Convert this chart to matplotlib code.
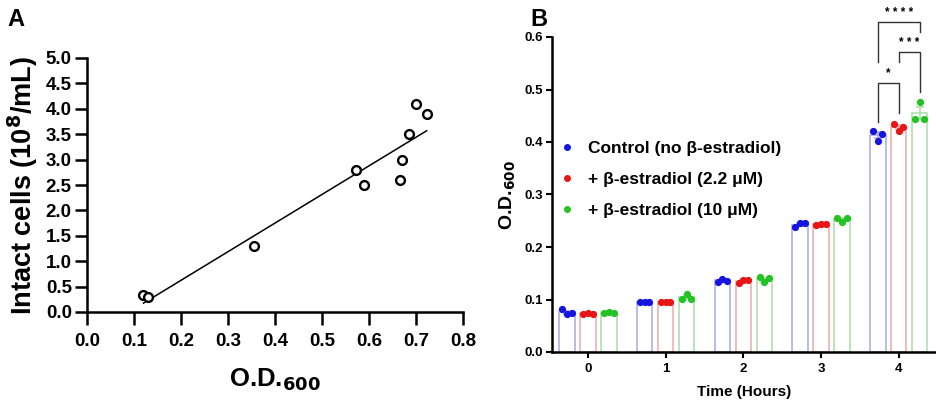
import numpy as np
import matplotlib.pyplot as plt

plt.rcParams['font.family'] = ['Liberation Sans', 'DejaVu Sans']
plt.rcParams['font.weight'] = 'bold'

# -----------------------------
# Panel A data: OD600 vs intact cells
# -----------------------------
od = [0.12, 0.13, 0.355, 0.572, 0.588, 0.665, 0.67, 0.685, 0.70, 0.722]
cells = [0.33, 0.30, 1.30, 2.80, 2.50, 2.60, 3.00, 3.50, 4.10, 3.90]

# -----------------------------
# Panel B data: OD600 over time, 3 replicates each
# -----------------------------
hours = [0, 1, 2, 3, 4]
groups = ['Control (no β-estradiol)', '+ β-estradiol (2.2 μM)', '+ β-estradiol (10 μM)']
control = [[0.081, 0.072, 0.074], [0.095, 0.095, 0.095], [0.134, 0.139, 0.136],
           [0.238, 0.245, 0.245], [0.421, 0.402, 0.415]]
low_dose = [[0.073, 0.075, 0.073], [0.095, 0.096, 0.096], [0.131, 0.137, 0.137],
            [0.241, 0.244, 0.244], [0.435, 0.421, 0.428]]
high_dose = [[0.075, 0.076, 0.075], [0.101, 0.111, 0.101], [0.142, 0.133, 0.141],
             [0.256, 0.248, 0.256], [0.444, 0.477, 0.444]]

dot_colors = ['#1515e0', '#e81515', '#22c322']
edge_colors = ['#a9a9dc', '#eba9a9', '#a9dca9']

fig = plt.figure(figsize=(9.36, 4), dpi=100)

# -----------------------------
# A
# -----------------------------
axA = fig.add_axes([0.093, 0.22, 0.402, 0.635])
axA.scatter(od, cells, s=40, facecolors='white', edgecolors='black', linewidths=1.7, zorder=3)
slope, intercept = np.polyfit(od, cells, 1)
xf = np.array([min(od), max(od)])
axA.plot(xf, intercept + slope * xf, color='black', lw=1.1)
axA.set_xlim(0, 0.8)
axA.set_ylim(0, 5)
axA.set_xticks(np.arange(0, 0.81, 0.1))
axA.set_yticks(np.arange(0, 5.01, 0.5))
axA.set_xticklabels([f'{v:.1f}' for v in np.arange(0, 0.81, 0.1)])
axA.set_yticklabels([f'{v:.1f}' for v in np.arange(0, 5.01, 0.5)])
axA.tick_params(labelsize=13.5, width=1.8, length=9, direction='out')
axA.tick_params(axis='x', pad=6)
axA.tick_params(axis='y', pad=2)
for s in ['top', 'right']:
    axA.spines[s].set_visible(False)
for s in ['left', 'bottom']:
    axA.spines[s].set_linewidth(1.8)
axA.set_xlabel(r'O.D.$_{\mathbf{600}}$', fontsize=18.5, fontweight='bold', labelpad=12)
axA.set_ylabel(r'Intact cells (10$^{\mathbf{8}}$/mL)', fontsize=19.5, fontweight='bold', labelpad=4)
fig.text(0.008, 0.935, 'A', fontsize=17, fontweight='bold')

# -----------------------------
# B
# -----------------------------
axB = fig.add_axes([0.59, 0.12, 0.41, 0.7875])
offsets = [-0.27, 0.0, 0.27]
width = 0.2
jitter = [-0.06, 0.0, 0.06]
for g, (data, off) in enumerate(zip([control, low_dose, high_dose], offsets)):
    arr = np.array(data)
    means = arr.mean(axis=1)
    sems = arr.std(axis=1, ddof=1) / np.sqrt(arr.shape[1])
    xs = np.array(hours) + off
    axB.bar(xs, means, width=width, facecolor='white', edgecolor=edge_colors[g], lw=1.1, zorder=1)
    axB.errorbar(xs, means, yerr=sems, fmt='none', ecolor=edge_colors[g], elinewidth=1.1,
                 capsize=3, capthick=1.1, zorder=2)
    for i, h in enumerate(hours):
        axB.plot(h + off + np.array(jitter), arr[i], 'o', color=dot_colors[g], ms=4.2, zorder=3)
    axB.plot([], [], 'o', color=dot_colors[g], ms=4, label=groups[g])

axB.set_xlim(-0.46, 4.48)
axB.set_ylim(0, 0.6)
axB.set_xticks(hours)
axB.set_yticks(np.arange(0, 0.61, 0.1))
axB.set_yticklabels([f'{v:.1f}' for v in np.arange(0, 0.61, 0.1)])
axB.tick_params(labelsize=9.5, width=1.5, length=4.5, direction='out')
axB.tick_params(axis='y', pad=2)
for s in ['top', 'right']:
    axB.spines[s].set_visible(False)
for s in ['left', 'bottom']:
    axB.spines[s].set_linewidth(1.8)
axB.set_xlabel('Time (Hours)', fontsize=11, fontweight='bold', labelpad=7)
axB.set_ylabel(r'O.D.$_{\mathbf{600}}$', fontsize=14, fontweight='bold', labelpad=5)
axB.legend(loc='upper left', bbox_to_anchor=(-0.015, 0.72), frameon=False, fontsize=12.5,
           handlelength=0.6, handletextpad=0.9, labelspacing=0.92, borderaxespad=0.5)

# significance brackets at 4 h
def bracket(x1, x2, y, y1, y2, text, ty):
    axB.plot([x1, x1, x2, x2], [y1, y, y, y2], color='#333333', lw=1.0, clip_on=False)
    axB.text((x1 + x2) / 2, ty, text, ha='center', va='center', fontsize=8.5, clip_on=False)

bracket(4 - 0.27, 4 + 0.27, 0.629, 0.552, 0.610, '* * * *', 0.646)
bracket(4.0, 4 + 0.27, 0.571, 0.552, 0.495, '* * *', 0.589)
bracket(4 - 0.27, 4.0, 0.512, 0.438, 0.455, '*', 0.531)

fig.text(0.567, 0.935, 'B', fontsize=17, fontweight='bold')

fig.savefig('out.png', dpi=100)
